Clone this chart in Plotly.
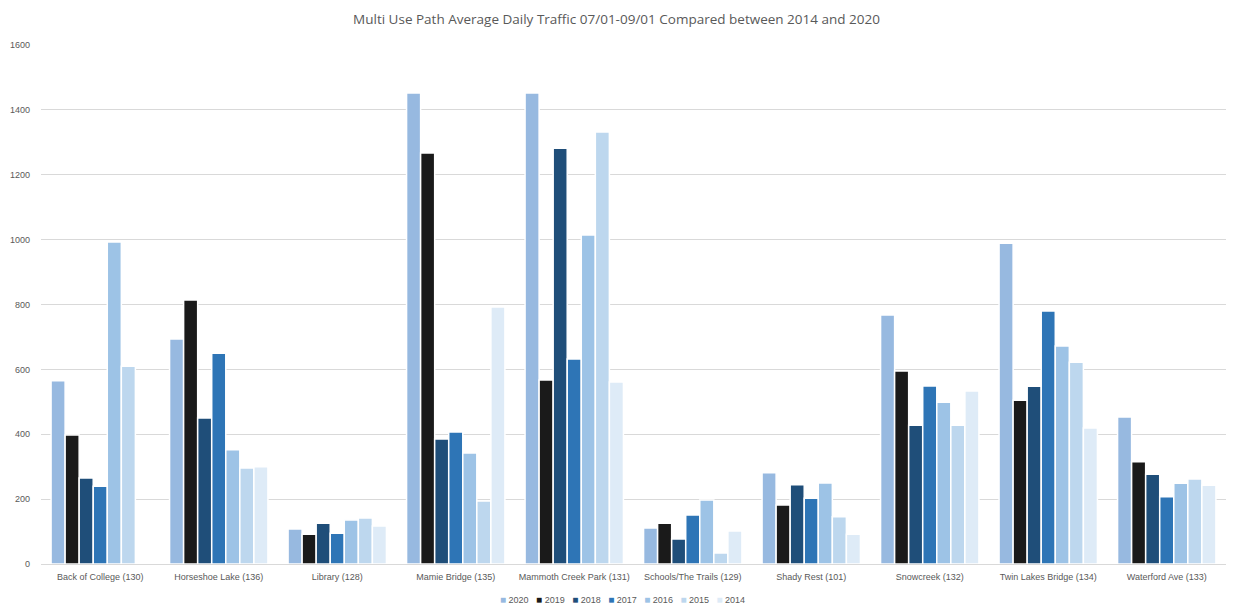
import plotly.graph_objects as go

# Multi-use path counters (site name with counter id)
sites = [
    "Back of College (130)", "Horseshoe Lake (136)", "Library (128)",
    "Mamie Bridge (135)", "Mammoth Creek Park (131)", "Schools/The Trails (129)",
    "Shady Rest (101)", "Snowcreek (132)", "Twin Lakes Bridge (134)",
    "Waterford Ave (133)",
]

# Average daily traffic, 07/01-09/01, per year
adt_2020 = [565, 694, 108, 1452, 1452, 111, 281, 768, 989, 453]
adt_2019 = [398, 814, 92, 1267, 567, 126, 182, 595, 505, 315]
adt_2018 = [265, 450, 126, 385, 1282, 77, 244, 428, 548, 277]
adt_2017 = [240, 650, 95, 407, 632, 151, 203, 549, 780, 207]
adt_2016 = [993, 352, 136, 342, 1014, 197, 250, 499, 672, 249]
adt_2015 = [610, 296, 142, 194, 1332, 34, 146, 428, 622, 262]
adt_2014 = [0, 300, 117, 792, 561, 102, 92, 533, 419, 243]

years = ["2020", "2019", "2018", "2017", "2016", "2015", "2014"]
series = [adt_2020, adt_2019, adt_2018, adt_2017, adt_2016, adt_2015, adt_2014]
colors = ["#97B9E0", "#1A1A1A", "#1F4E79", "#2E75B6", "#9DC3E6", "#BDD7EE", "#DEEBF7"]

fig = go.Figure()
for yr, vals, col in zip(years, series, colors):
    fig.add_trace(go.Bar(
        x=sites, y=vals, name=yr,
        marker=dict(color=col, line=dict(color="#FFFFFF", width=1.5)),
    ))

grey = "#595959"

# Compact legend row: small coloured square followed by the year
legend_text = "&nbsp;&nbsp;&nbsp;".join(
    f"<span style='color:{col};font-size:10px'>■</span>&nbsp;{yr}"
    for yr, col in zip(years, colors)
)

fig.update_layout(
    width=1233, height=611,
    margin=dict(l=41, r=7, t=45, b=47, autoexpand=False),
    paper_bgcolor="white", plot_bgcolor="white",
    barmode="group", bargap=0.17, bargroupgap=0.0,
    font=dict(family="Liberation Sans, Arial, sans-serif", color=grey, size=9),
    title=dict(
        text="Multi Use Path Average Daily Traffic 07/01-09/01 Compared between 2014 and 2020",
        x=0.5, xanchor="center", y=0.968, yanchor="middle",
        font=dict(size=13.5, color=grey, family="Open Sans, Liberation Sans, sans-serif"),
    ),
    showlegend=False,
    annotations=[dict(
        text=legend_text, xref="paper", yref="paper",
        x=0.491, y=-0.0675, xanchor="center", yanchor="middle",
        showarrow=False, font=dict(size=9, color=grey),
    )],
    xaxis=dict(
        showline=True, linecolor="#D9D9D9", linewidth=1,
        ticks="", tickfont=dict(size=9, color=grey), showgrid=False,
        ticklabelstandoff=4,
    ),
    yaxis=dict(
        range=[0, 1600], dtick=200, showgrid=True, gridcolor="#D9D9D9",
        gridwidth=1, zeroline=False, ticks="", tickfont=dict(size=9, color=grey),
        ticklen=0, ticklabelstandoff=10,
    ),
)

fig.write_html("out.html")
